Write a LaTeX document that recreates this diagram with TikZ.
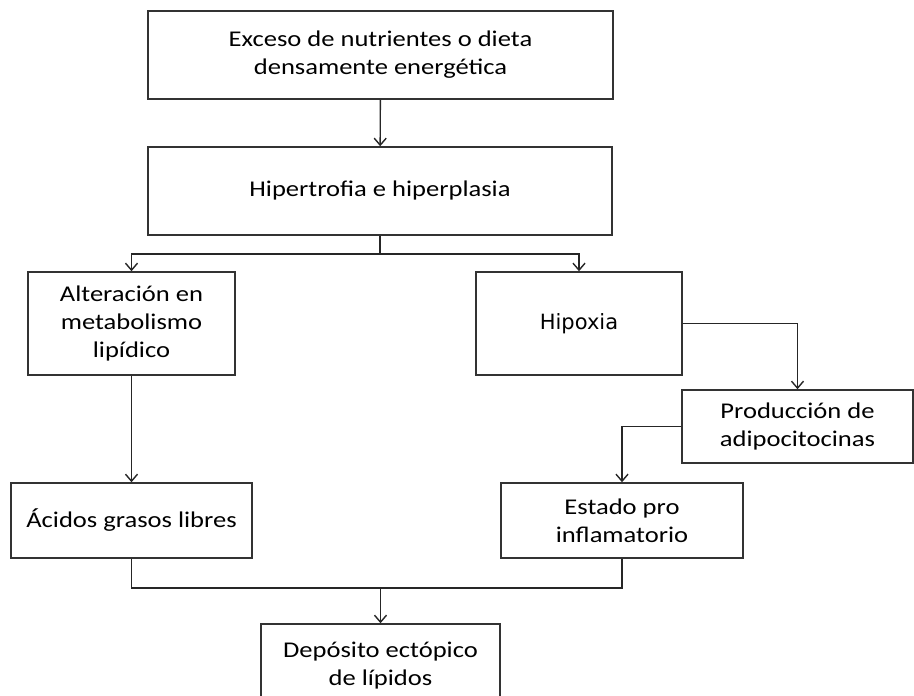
\documentclass[tikz,border=0pt]{standalone}
\usepackage{fontspec}
\setmainfont{Carlito}[FakeStretch=1.18]
\newfontfamily\hpxfont{DejaVu Sans}
\usetikzlibrary{arrows.meta}
\tikzset{
  box/.style={draw=black!80, line width=1.5pt, align=center, inner sep=0pt,
    font=\fontsize{22.5}{28}\selectfont},
  flow/.style={draw=black!85, line width=1.4pt},
}
\begin{document}
\begin{tikzpicture}[x=1pt,y=-1pt]
      \useasboundingbox (0,0) rectangle (914,696);
      \draw
        (380.5,55) node[box,minimum width=465,minimum height=88] (exc){Exceso de nutrientes o dieta\\densamente energética}
        (380,191) node[box,minimum width=464,minimum height=88] (hip){Hipertrofia e hiperplasia}
        (131.5,323.5) node[box,minimum width=207,minimum height=103] (alt){Alteración en\\metabolismo\\lipídico}
        (579,323.5) node[box,minimum width=206,minimum height=103,font=\hpxfont\fontsize{21}{26}\selectfont] (hpx){Hipoxia}
        (797.5,426.5) node[box,minimum width=231,minimum height=73] (pro){Producción de\\adipocitocinas}
        (131.5,520.5) node[box,minimum width=241,minimum height=75] (aci){Ácidos grasos libres}
        (622,520.5) node[box,minimum width=242,minimum height=75] (est){Estado pro\\inflamatorio}
        (380.5,666) node[box,minimum width=239,minimum height=84] (dep){Depósito ectópico\\de lípidos};
      \coordinate (split) at (380,254);
      \coordinate (join) at (380.5,588);
      \begin{scope}[flow,-{Straight Barb[length=7pt,width=12pt]}]
        \draw (exc) to (hip);
        \draw (hip.south) -- (split) -| (alt.north);
        \draw (split) -| (hpx.north);
        \draw (hpx.east) -| (pro.north);
        \draw (pro.west) -| (est.north);
        \draw (alt) to (aci);
        \draw (join) -- (dep.north);
      \end{scope}
      \draw[flow] (aci.south) |- (join) -| (est.south);
    \end{tikzpicture}
\end{document}
